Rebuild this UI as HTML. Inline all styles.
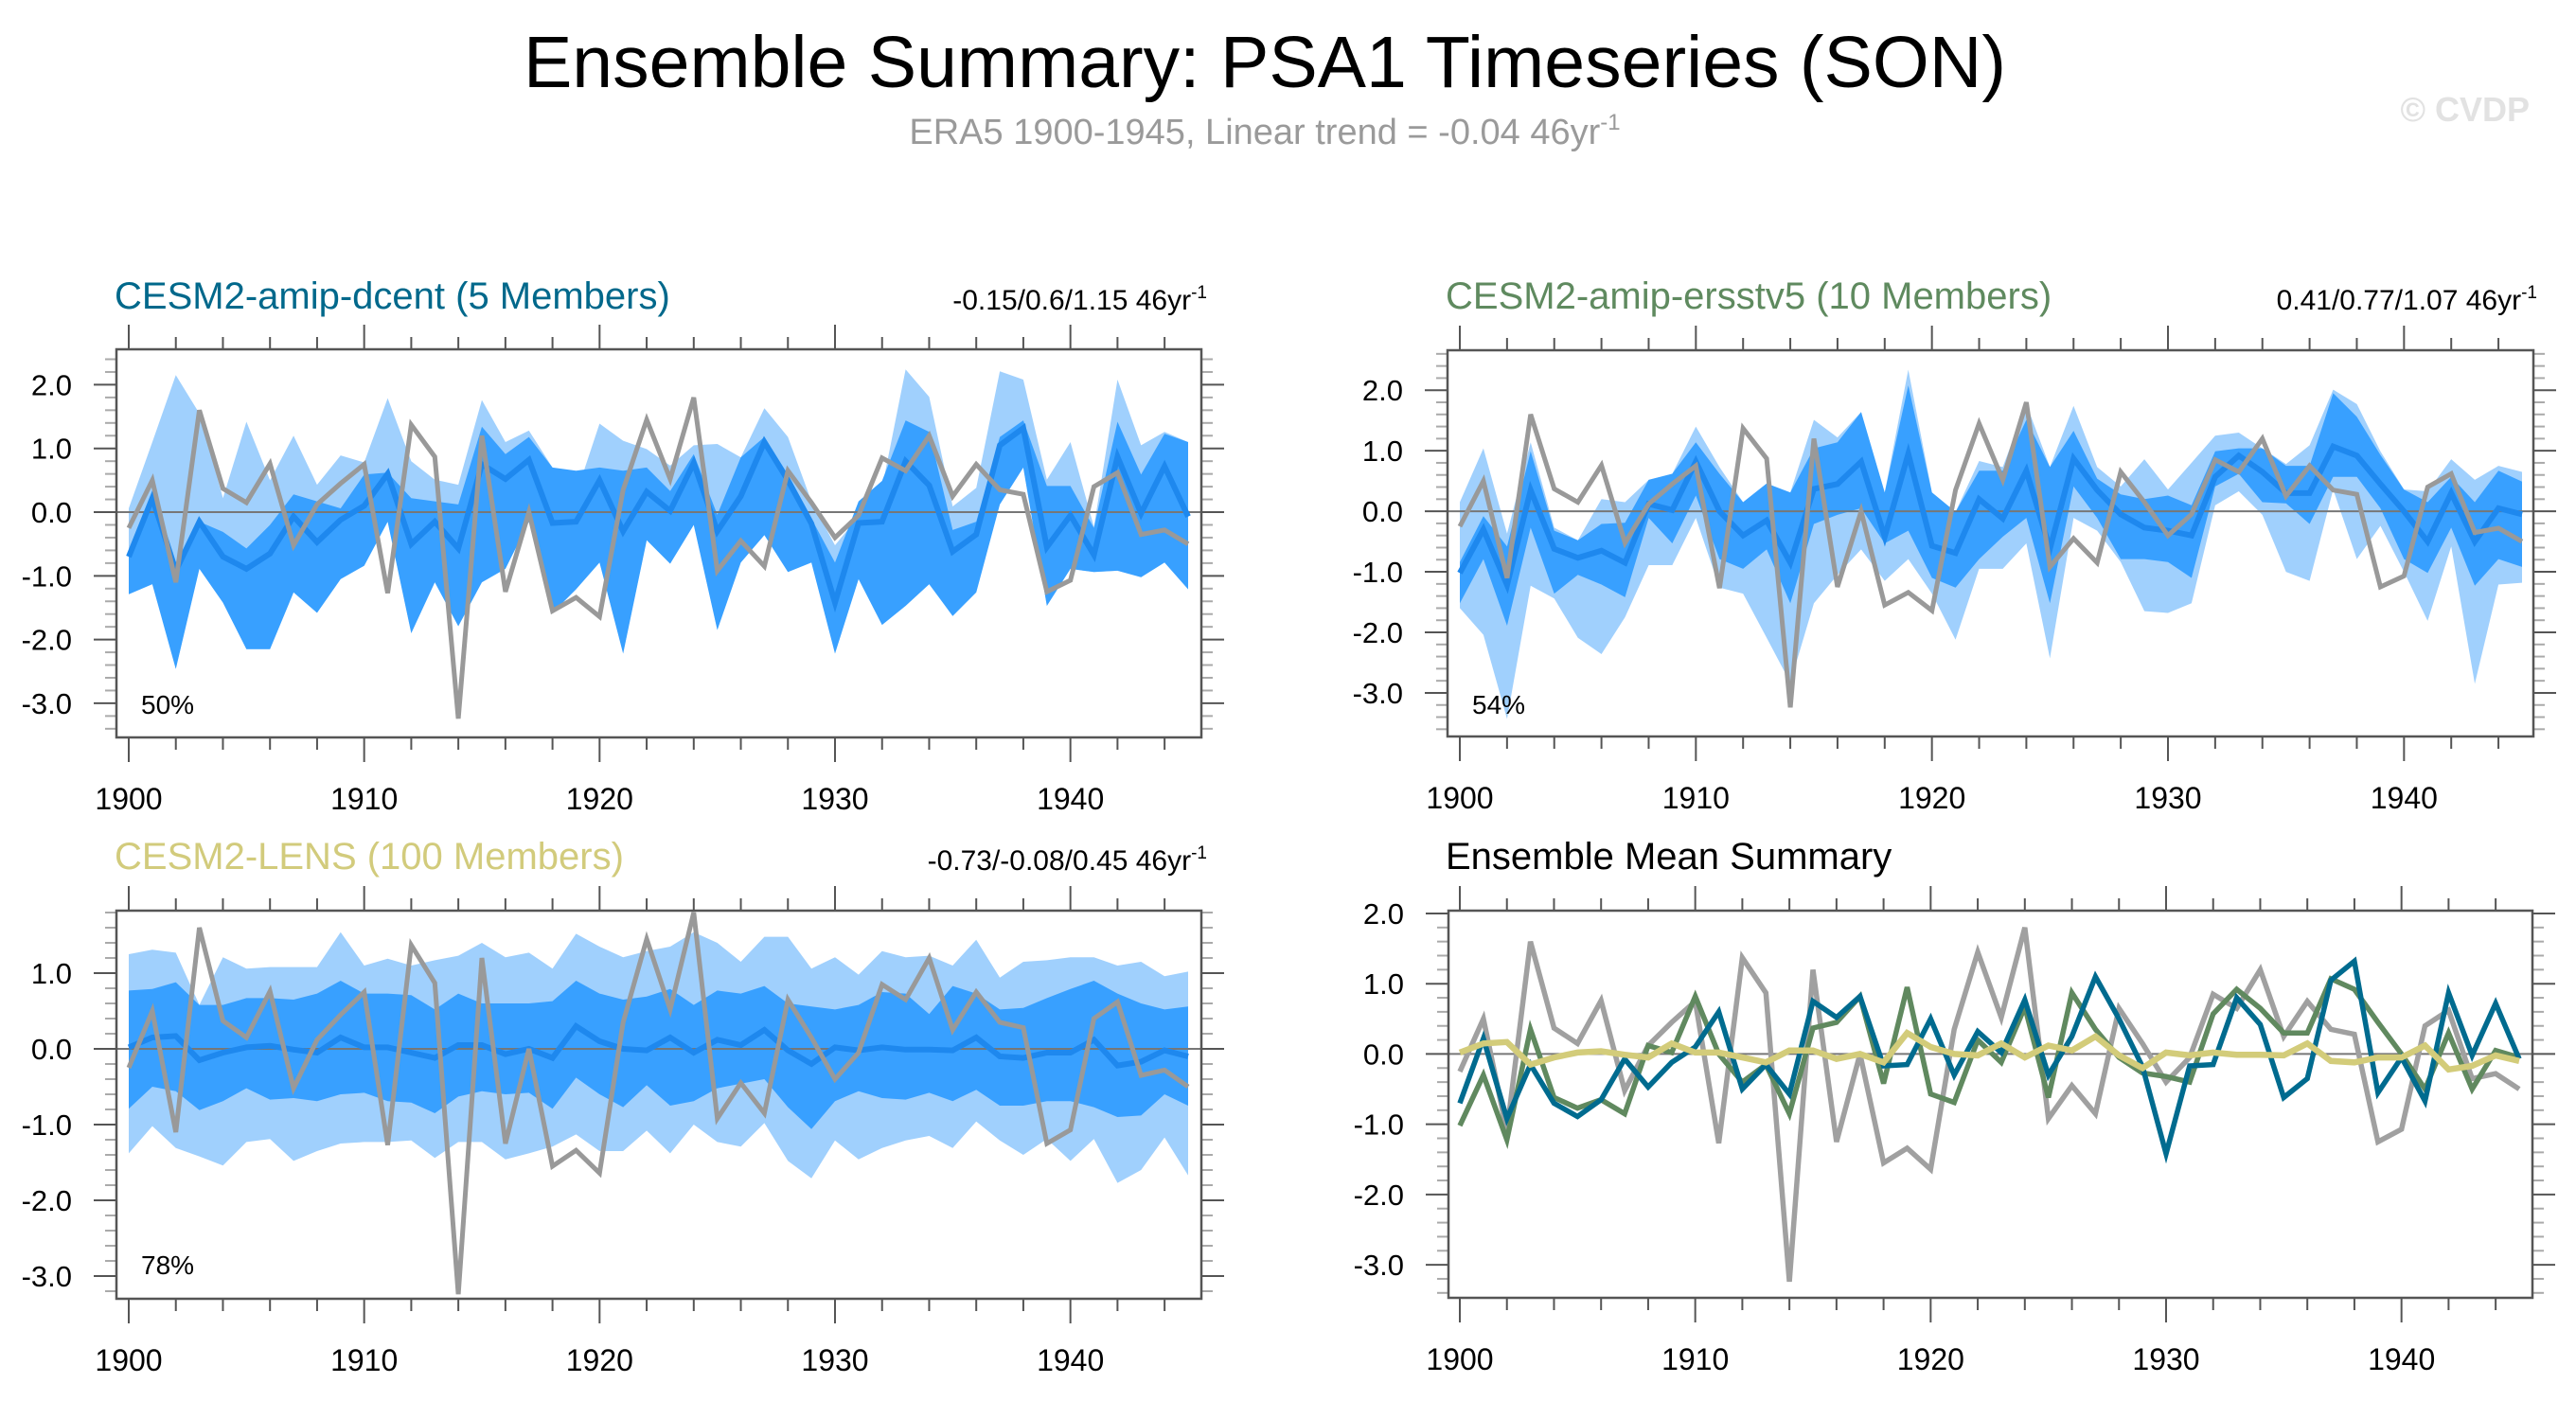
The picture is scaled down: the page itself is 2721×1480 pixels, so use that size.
<!DOCTYPE html>
<html><head><meta charset="utf-8">
<style>
html,body{margin:0;padding:0;background:#fff;}
svg{display:block;font-family:"Liberation Sans",sans-serif;}
</style></head>
<body>
<svg id="fig" xmlns="http://www.w3.org/2000/svg" width="2721" height="1480" viewBox="0 0 2721 1480">
<rect width="2721" height="1480" fill="#fff"/>
<text x="1336" y="92" font-size="77" text-anchor="middle" fill="#000">Ensemble Summary: PSA1 Timeseries (SON)</text>
<text x="1336" y="152" font-size="38" text-anchor="middle" fill="#9a9a9a">ERA5 1900-1945, Linear trend = -0.04 46yr<tspan font-size="24" dy="-15">-1</tspan></text>
<text x="2672" y="128" font-size="36" font-weight="bold" text-anchor="end" fill="#e2e2e2">© CVDP</text>

<text x="121" y="326" font-size="40" fill="#00688b">CESM2-amip-dcent (5 Members)</text>
<text x="1275" y="327" font-size="30" text-anchor="end" fill="#000">-0.15/0.6/1.15 46yr<tspan font-size="19" dy="-12">-1</tspan></text>
<text x="1527" y="326" font-size="40" fill="#5f8a5f">CESM2-amip-ersstv5 (10 Members)</text>
<text x="2680" y="327" font-size="30" text-anchor="end" fill="#000">0.41/0.77/1.07 46yr<tspan font-size="19" dy="-12">-1</tspan></text>
<text x="121" y="918" font-size="40" fill="#d2cb7c">CESM2-LENS (100 Members)</text>
<text x="1275" y="919" font-size="30" text-anchor="end" fill="#000">-0.73/-0.08/0.45 46yr<tspan font-size="19" dy="-12">-1</tspan></text>
<text x="1527" y="918" font-size="40" fill="#000">Ensemble Mean Summary</text>
<g id="plots"></g>
</svg>
<script>
const years = [1900,1901,1902,1903,1904,1905,1906,1907,1908,1909,1910,1911,1912,1913,1914,1915,1916,1917,1918,1919,1920,1921,1922,1923,1924,1925,1926,1927,1928,1929,1930,1931,1932,1933,1934,1935,1936,1937,1938,1939,1940,1941,1942,1943,1944,1945];
const era5 = [-0.25,0.5,-1.1,1.6,0.37,0.15,0.76,-0.52,0.12,0.45,0.75,-1.27,1.37,0.87,-3.24,1.2,-1.25,0.0,-1.55,-1.34,-1.64,0.35,1.45,0.52,1.8,-0.92,-0.45,-0.85,0.65,0.15,-0.4,-0.05,0.85,0.65,1.2,0.25,0.75,0.35,0.28,-1.25,-1.07,0.4,0.62,-0.35,-0.28,-0.5];
const dcentMean = [-0.7,0.22,-0.92,-0.15,-0.7,-0.89,-0.65,-0.07,-0.47,-0.12,0.1,0.6,-0.5,-0.15,-0.57,0.75,0.52,0.82,-0.17,-0.15,0.5,-0.3,0.32,0.02,0.77,-0.3,0.25,1.1,0.5,-0.18,-1.42,-0.17,-0.15,0.8,0.42,-0.62,-0.35,1.05,1.32,-0.55,-0.05,-0.67,0.87,-0.02,0.72,-0.07];
const ersstMean = [-1.02,-0.3,-1.22,0.35,-0.62,-0.77,-0.65,-0.85,0.12,0.02,0.82,0.0,-0.4,-0.15,-0.85,0.37,0.45,0.82,-0.42,0.95,-0.57,-0.69,0.2,-0.12,0.67,-0.62,0.87,0.35,-0.05,-0.27,-0.32,-0.4,0.57,0.92,0.65,0.3,0.3,1.07,0.92,0.45,0.0,-0.5,0.3,-0.5,0.05,-0.05];
const lensMean = [0.02,0.15,0.17,-0.15,-0.05,0.02,0.04,-0.01,-0.05,0.15,0.02,0.02,-0.05,-0.12,0.05,0.05,-0.07,0.0,-0.12,0.3,0.1,0.0,-0.02,0.15,-0.05,0.12,0.05,0.25,-0.02,-0.2,0.02,-0.02,0.02,-0.01,-0.01,-0.02,0.15,-0.1,-0.12,-0.05,-0.05,0.12,-0.22,-0.17,-0.02,-0.1];
const dcentLU = [0.06,1.1,2.15,1.55,0.22,1.42,0.5,1.2,0.43,0.89,0.78,1.79,0.8,0.51,0.43,1.76,1.1,1.28,0.7,0.28,1.39,1.12,0.99,0.73,1.05,1.07,0.86,1.63,1.18,0.17,-0.52,-0.07,0.38,2.24,1.81,0.09,0.38,2.21,2.08,0.51,1.1,-0.23,2.08,1.05,1.26,1.1];
const dcentDU = [-0.68,0.22,-0.79,-0.15,-0.31,-0.57,-0.2,0.28,0.17,0.06,0.59,0.62,0.22,0.17,0.12,1.34,0.91,1.18,0.7,0.65,0.7,0.65,0.7,0.33,0.91,-0.04,0.86,1.18,0.59,-0.1,-0.79,0.17,0.49,1.44,1.26,-0.28,-0.15,1.18,1.44,0.41,0.41,-0.25,1.42,0.59,1.23,1.1];
const dcentDL = [-1.29,-1.13,-2.46,-0.89,-1.42,-2.15,-2.15,-1.26,-1.58,-1.05,-0.84,-0.15,-1.9,-1.1,-1.79,-1.1,-0.89,-0.15,-1.58,-1.21,-0.79,-2.22,-0.44,-0.81,-0.2,-1.85,-0.79,-0.36,-0.94,-0.79,-2.22,-1.05,-1.77,-1.47,-1.13,-1.63,-1.26,0.12,0.7,-1.47,-0.89,-0.94,-0.92,-1.02,-0.79,-1.21];
const dcentLL = [-1.29,-1.13,-2.46,-0.89,-1.42,-2.15,-2.15,-1.26,-1.58,-1.05,-0.84,-0.15,-1.9,-1.1,-1.79,-1.1,-0.89,-0.15,-1.58,-1.21,-0.79,-2.22,-0.44,-0.81,-0.2,-1.85,-0.79,-0.36,-0.94,-0.79,-2.22,-1.05,-1.77,-1.47,-1.13,-1.63,-1.26,0.12,0.7,-1.47,-0.89,-0.94,-0.92,-1.02,-0.79,-1.21];
const ersstLU = [0.15,1.04,-0.37,1.14,-0.27,-0.48,0.2,0.15,0.52,0.62,1.4,0.73,0.15,0.46,0.31,1.51,1.22,1.64,0.31,2.34,0.31,-0.01,0.83,0.73,1.77,0.73,1.74,0.73,0.41,0.86,0.36,0.8,1.25,1.3,1.04,0.78,1.09,2.01,1.77,0.99,0.36,0.33,0.86,0.52,0.75,0.65];
const ersstDU = [-0.84,-0.08,-0.58,0.99,-0.32,-0.48,-0.21,-0.19,0.52,0.62,1.14,0.62,0.15,0.46,0.31,1.04,1.14,1.64,0.31,2.08,0.31,-0.01,0.67,0.67,1.51,0.73,1.33,0.54,0.28,0.2,0.26,0.1,0.99,1.04,1.04,0.75,0.75,1.95,1.56,0.93,0.36,0.15,0.57,0.15,0.67,0.49];
const ersstDL = [-1.52,-0.79,-1.89,-0.27,-1.36,-1.05,-1.21,-1.42,-0.11,-0.53,0.26,-0.79,-0.95,-0.63,-1.52,-0.21,-0.06,0.05,-0.53,-0.32,-1.1,-1.26,-0.79,-0.42,-0.11,-1.52,0.41,-0.11,-0.79,-0.79,-0.84,-1.1,0.41,0.62,0.15,0.13,-0.21,0.57,0.57,0.05,-0.79,-1.02,-0.27,-1.23,-0.79,-0.92];
const ersstLL = [-1.6,-2.04,-3.43,-1.23,-1.44,-2.09,-2.36,-1.75,-0.89,-0.89,-0.11,-1.26,-1.36,-2.09,-2.83,-1.52,-1.05,-0.63,-1.15,-0.79,-1.36,-2.12,-0.95,-0.95,-0.53,-2.43,-0.11,-0.32,-0.84,-1.65,-1.68,-1.52,0.1,0.33,-0.06,-1.0,-1.15,0.36,-0.79,-0.24,-1.0,-1.81,-0.58,-2.85,-1.21,-1.18];
const lensLU = [1.25,1.31,1.27,0.58,1.21,1.06,1.08,1.08,1.08,1.54,1.1,1.19,1.1,1.17,1.23,1.4,1.21,1.27,1.06,1.52,1.35,1.21,1.29,1.35,1.54,1.4,1.15,1.48,1.48,1.06,1.21,0.98,1.29,1.21,1.23,1.1,1.44,0.94,1.15,1.17,1.21,1.21,1.1,1.15,0.96,1.02];
const lensDU = [0.77,0.79,0.88,0.58,0.58,0.67,0.67,0.65,0.73,0.9,0.73,0.73,0.71,0.52,0.73,0.6,0.6,0.6,0.63,0.9,0.73,0.65,0.69,0.79,0.58,0.77,0.73,0.83,0.6,0.56,0.52,0.58,0.75,0.73,0.46,0.83,0.73,0.52,0.54,0.67,0.79,0.9,0.73,0.6,0.52,0.56];
const lensDL = [-0.79,-0.5,-0.56,-0.81,-0.69,-0.52,-0.67,-0.65,-0.69,-0.6,-0.58,-0.69,-0.71,-0.85,-0.63,-0.56,-0.6,-0.58,-0.79,-0.38,-0.6,-0.77,-0.48,-0.75,-0.69,-0.52,-0.46,-0.4,-0.77,-1.06,-0.69,-0.56,-0.65,-0.67,-0.58,-0.69,-0.54,-0.75,-0.75,-0.69,-0.69,-0.77,-0.9,-0.88,-0.6,-0.75];
const lensLL = [-1.38,-1.02,-1.31,-1.42,-1.54,-1.23,-1.19,-1.48,-1.35,-1.25,-1.23,-1.23,-1.21,-1.44,-1.23,-1.23,-1.46,-1.38,-1.29,-1.13,-1.35,-1.35,-1.08,-1.38,-1.0,-1.23,-1.29,-0.98,-1.48,-1.71,-1.21,-1.46,-1.31,-1.21,-1.15,-1.31,-0.96,-1.21,-1.4,-1.19,-1.48,-1.19,-1.77,-1.6,-1.17,-1.67];
const yTicksA = [2.0,1.0,0.0,-1.0,-2.0,-3.0];
const yTicksB = [1.0,0.0,-1.0,-2.0,-3.0];
const xTickYears = [1900,1910,1920,1930,1940];
const pctLabels = ["50%","54%","78%"];

const NS = "http://www.w3.org/2000/svg";
const root = document.getElementById('plots');
function mk(tag, attrs, parent){
  const e = document.createElementNS(NS, tag);
  for (const k in attrs) e.setAttribute(k, attrs[k]);
  (parent||root).appendChild(e);
  return e;
}
function makeAxes(p){
  return {
    x: yr => p.xF + (yr - years[0]) * (p.xL - p.xF) / (years[years.length-1] - years[0]),
    y: v => p.y0 + (p.vmax - v) * (p.y1 - p.y0) / (p.vmax - p.vmin)
  };
}
function linePath(ax, vals){
  return vals.map((v,i)=>(i?'L':'M')+ax.x(years[i]).toFixed(1)+','+ax.y(v).toFixed(1)).join(' ');
}
function bandPath(ax, up, lo){
  let d = up.map((v,i)=>(i?'L':'M')+ax.x(years[i]).toFixed(1)+','+ax.y(v).toFixed(1)).join(' ');
  for (let i=lo.length-1;i>=0;i--) d += ' L'+ax.x(years[i]).toFixed(1)+','+ax.y(lo[i]).toFixed(1);
  return d+' Z';
}
function drawFrame(g, p, ax, yTicks){
  const tc = '#555';
  for (let yr = years[0]; yr <= years[years.length-1]; yr += 2){
    const major = (yr % 10 === 0);
    const len = major ? 26 : 13;
    const x = ax.x(yr);
    const t1 = mk('line',{x1:x,x2:x,y1:p.y0,y2:p.y0-len,stroke:tc,'stroke-width':2},g);
    
    
    const t2 = mk('line',{x1:x,x2:x,y1:p.y1,y2:p.y1+len,stroke:tc,'stroke-width':2},g);
    
    
  }
  const lo = Math.ceil(p.vmin*5), hi = Math.floor(p.vmax*5);
  for (let k = lo; k <= hi; k++){
    const v = k/5;
    const major = (k % 5 === 0);
    const len = major ? 24 : 12;
    const y = ax.y(v);
    const a = mk('line',{x1:p.x0,x2:p.x0-len,y1:y,y2:y,stroke:major?tc:'#aaa','stroke-width':2},g);
    
    
    const b = mk('line',{x1:p.x1,x2:p.x1+len,y1:y,y2:y,stroke:major?tc:'#aaa','stroke-width':2},g);
    
    
  }
  yTicks.forEach(v=>{
    const t = mk('text',{x:p.x0-47,y:ax.y(v)+11,'font-size':31,'text-anchor':'end',fill:'#000'},g);
    t.textContent = v.toFixed(1);
    
    
  });
  xTickYears.forEach(yr=>{
    const t = mk('text',{x:ax.x(yr),y:p.y1+76,'font-size':32,'text-anchor':'middle',fill:'#000'},g);
    t.textContent = String(yr);
    
    
  });
  const z = mk('line',{x1:p.x0,x2:p.x1,y1:ax.y(0),y2:ax.y(0),stroke:'#777','stroke-width':2},g);
  
  
  const box = mk('rect',{x:p.x0,y:p.y0,width:p.x1-p.x0,height:p.y1-p.y0,fill:'none',stroke:'#555','stroke-width':2.5},g);
  
  
}
function bandPanel(name, p, LU, DU, DL, LL, mean, pct, yTicks){
  const g = mk('g',{});
  
  
  const ax = makeAxes(p);
  const l = mk('path',{d:bandPath(ax,LU,LL),fill:'#a0d0fd'},g);
  
  
  const d = mk('path',{d:bandPath(ax,DU,DL),fill:'#38a0ff'},g);
  
  
  drawFrame(g,p,ax,yTicks);
  const m = mk('path',{d:linePath(ax,mean),fill:'none',stroke:'#1e88ee','stroke-width':6,'stroke-linejoin':'miter'},g);
  
  
  const o = mk('path',{d:linePath(ax,era5),fill:'none',stroke:'#999','stroke-width':5},g);
  
  
  const t = mk('text',{x:p.x0+26,y:p.pctY,'font-size':28,fill:'#000'},g);
  t.textContent = pct;
  
  
}
const P1 = {x0:123,x1:1269,y0:369,y1:779,xF:136,xL:1255,vmax:2.556,vmin:-3.536,pctY:754};
const P2 = {x0:1529,x1:2676,y0:370,y1:778,xF:1542,xL:2664,vmax:2.66,vmin:-3.72,pctY:754};
const P3 = {x0:123,x1:1269,y0:962,y1:1372,xF:136,xL:1255,vmax:1.825,vmin:-3.3,pctY:1346};
const P4 = {x0:1530,x1:2675,y0:962,y1:1371,xF:1542,xL:2661,vmax:2.04,vmin:-3.47};
bandPanel('panel-cesm2-amip-dcent',P1,dcentLU,dcentDU,dcentDL,dcentLL,dcentMean,pctLabels[0],yTicksA);
bandPanel('panel-cesm2-amip-ersstv5',P2,ersstLU,ersstDU,ersstDL,ersstLL,ersstMean,pctLabels[1],yTicksA);
bandPanel('panel-cesm2-lens',P3,lensLU,lensDU,lensDL,lensLL,lensMean,pctLabels[2],yTicksB);
(function(){
  const g = mk('g',{});
  
  
  const ax = makeAxes(P4);
  drawFrame(g,P4,ax,yTicksA);
  const series = [[era5,'#a0a0a0','era5-line'],[ersstMean,'#60895f','ersstv5-mean-line'],[dcentMean,'#006b8f','dcent-mean-line'],[lensMean,'#d3cc7a','lens-mean-line']];
  series.forEach(s=>{
    const e = mk('path',{d:linePath(ax,s[0]),fill:'none',stroke:s[1],'stroke-width':s[2]==='lens-mean-line'?6.5:5.5},g);
    
    
  });
})();
</script>
</body></html>
